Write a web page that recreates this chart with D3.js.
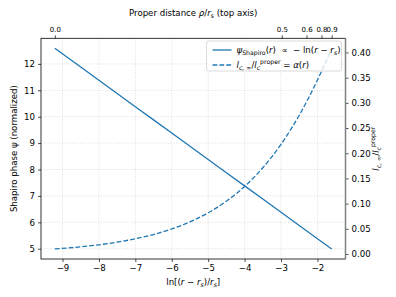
<!DOCTYPE html>
<html>
<head>
<meta charset="utf-8">
<script src="https://cdn.jsdelivr.net/npm/d3@7"></script>
<style>
    body { margin: 0; background: #fff; }
    text { font-family: "DejaVu Sans", sans-serif; font-size: 8.6px; fill: #000; white-space: pre; }
    .top-axis text { font-size: 7px; }
</style>
</head>
<body>
<div id="chart"></div>
<script>

// sample points along ln[(r - rs)/rs]
const lnX = [-9.21, -8.5, -8, -7.5, -7, -6.5, -6, -5.5, -5, -4.5, -4, -3.5, -3, -2.5, -2, -1.61];
// Shapiro phase (normalized), left axis
const psiShapiro = [12.59, 11.88, 11.38, 10.88, 10.38, 9.88, 9.38, 8.88, 8.38, 7.88, 7.38, 6.88, 6.38, 5.88, 5.38, 4.99];
// l_c,inf / l_c^proper, right axis
const alphaRatio = [0.0100, 0.0143, 0.0183, 0.0235, 0.0302, 0.0387, 0.0497, 0.0638, 0.0818, 0.1048, 0.1341, 0.1712, 0.2178, 0.2754, 0.3453, 0.4082];

const bottomTicks = [-9, -8, -7, -6, -5, -4, -3, -2];
const leftTicks = [5, 6, 7, 8, 9, 10, 11, 12];
const rightTicks = [0, 0.05, 0.10, 0.15, 0.20, 0.25, 0.30, 0.35, 0.40];
// top axis: proper distance ticks, placed on the ln axis
const topTickPos = [-9.21, -2.98, -2.3, -1.89, -1.61];
const topTickLabels = ["0.0", "0.5", "0.6", "0.8", "0.9"];

const width = 396, height = 297;
const box = {left: 41, right: 345.5, top: 38.3, bottom: 259};
const blue = "#1f77b4";

const svg = d3.select("#chart").append("svg")
    .attr("width", width)
    .attr("height", height);

// 5% padding like the plotting library default
function padded(vals) {
    let [lo, hi] = d3.extent(vals);
    let m = (hi - lo) * 0.05;
    return [lo - m, hi + m];
}

const x = d3.scaleLinear().domain(padded(lnX)).range([box.left, box.right]);
const yL = d3.scaleLinear().domain(padded(psiShapiro)).range([box.bottom, box.top]);
const yR = d3.scaleLinear().domain(padded(alphaRatio)).range([box.bottom, box.top]);

// writes text with italic / sub / sup pieces
function mathText(sel, parts) {
    let shift = 0;
    parts.forEach(p => {
        let [t, s] = p;
        s = s || "";
        let target = 0;
        if (s.includes("sub")) target = 2.4;
        if (s.includes("sup")) target = -3.6;
        let ts = sel.append("tspan").text(t).attr("dy", target - shift);
        shift = target;
        if (s.includes("i")) ts.attr("font-style", "italic");
        if (s.includes("sub") || s.includes("sup")) ts.style("font-size", "6.2px");
    });
    return sel;
}

// grid
const grid = svg.append("g").attr("stroke", "#d0d0d0").attr("stroke-width", 0.7).attr("stroke-dasharray", "1,1.6");
grid.selectAll(".gx").data(bottomTicks).enter().append("line")
    .attr("x1", d => x(d)).attr("x2", d => x(d))
    .attr("y1", box.top).attr("y2", box.bottom);
grid.selectAll(".gy").data(leftTicks).enter().append("line")
    .attr("x1", box.left).attr("x2", box.right)
    .attr("y1", d => yL(d)).attr("y2", d => yL(d));

// lines
const psiLine = d3.line().x((d, i) => x(lnX[i])).y(d => yL(d));
const alphaLine = d3.line().x((d, i) => x(lnX[i])).y(d => yR(d)).curve(d3.curveMonotoneX);

svg.append("path").datum(psiShapiro)
    .attr("d", psiLine)
    .attr("fill", "none").attr("stroke", blue).attr("stroke-width", 1.3);

svg.append("path").datum(alphaRatio)
    .attr("d", alphaLine)
    .attr("fill", "none").attr("stroke", blue).attr("stroke-width", 1.3)
    .attr("stroke-dasharray", "4.8,2.1");

// axes
function styleAxis(g) {
    g.select(".domain").remove();
    g.selectAll(".tick line").attr("stroke", "#000").attr("stroke-width", 0.7);
}

svg.append("g")
    .attr("transform", `translate(0,${box.bottom})`)
    .call(d3.axisBottom(x).tickValues(bottomTicks).tickFormat(d3.format("d")).tickSize(3).tickPadding(3))
    .call(styleAxis);

svg.append("g")
    .attr("transform", `translate(${box.left},0)`)
    .call(d3.axisLeft(yL).tickValues(leftTicks).tickFormat(d3.format("d")).tickSize(3).tickPadding(3))
    .call(styleAxis);

svg.append("g")
    .attr("transform", `translate(${box.right},0)`)
    .call(d3.axisRight(yR).tickValues(rightTicks).tickFormat(d3.format(".2f")).tickSize(3).tickPadding(3))
    .call(styleAxis);

svg.append("g")
    .attr("class", "top-axis")
    .attr("transform", `translate(0,${box.top})`)
    .call(d3.axisTop(x).tickValues(topTickPos).tickFormat((d, i) => topTickLabels[i]).tickSize(3).tickPadding(3))
    .call(styleAxis);

// frame
svg.append("rect")
    .attr("x", box.left).attr("y", box.top)
    .attr("width", box.right - box.left).attr("height", box.bottom - box.top)
    .attr("fill", "none").attr("stroke", "#000").attr("stroke-width", 0.8);
svg.append("line")
    .attr("x1", box.right).attr("x2", box.right)
    .attr("y1", box.top).attr("y2", box.bottom)
    .attr("stroke", "#808080").attr("stroke-width", 1.5);

// axis labels
const midX = (box.left + box.right) / 2;
const midY = (box.top + box.bottom) / 2;

mathText(svg.append("text").attr("x", midX).attr("y", 285).attr("text-anchor", "middle"),
    [["ln[("], ["r", "i"], [" − "], ["r", "i"], ["s", "subi"], [")/"], ["r", "i"], ["s", "subi"], ["]"]]);

mathText(svg.append("text").attr("x", midX).attr("y", 16).attr("text-anchor", "middle"),
    [["Proper distance "], ["ρ", "i"], ["/"], ["r", "i"], ["s", "sub"], [" (top axis)"]]);

svg.append("text")
    .attr("transform", `translate(17,${midY}) rotate(-90)`)
    .attr("text-anchor", "middle")
    .text("Shapiro phase ψ (normalized)");

mathText(svg.append("text").attr("transform", `translate(379,${midY}) rotate(-90)`).attr("text-anchor", "middle"),
    [["l", "i"], ["c, ∞", "subi"], ["/"], ["l", "i"], ["c", "subi"], ["proper", "sup"]]);

// legend
const leg = svg.append("g").attr("transform", "translate(206.5,41)");
leg.append("rect")
    .attr("width", 135).attr("height", 30).attr("rx", 2)
    .attr("fill", "#fff").attr("fill-opacity", 0.8)
    .attr("stroke", "#cccccc").attr("stroke-width", 0.7);

leg.append("line").attr("x1", 6).attr("x2", 25).attr("y1", 9).attr("y2", 9)
    .attr("stroke", blue).attr("stroke-width", 1.3);
leg.append("line").attr("x1", 6).attr("x2", 25).attr("y1", 24).attr("y2", 24)
    .attr("stroke", blue).attr("stroke-width", 1.3).attr("stroke-dasharray", "4.8,2.1");

mathText(leg.append("text").attr("x", 30).attr("y", 12),
    [["ψ", "i"], ["Shapiro", "sub"], ["("], ["r", "i"], [")"], ["  ∝  "], ["− ln("], ["r", "i"], [" − "], ["r", "i"], ["s", "subi"], [")"]]);

mathText(leg.append("text").attr("x", 30).attr("y", 27),
    [["l", "i"], ["c, ∞", "subi"], ["/"], ["l", "i"], ["c", "subi"], ["proper", "sup"], [" = "], ["α", "i"], ["("], ["r", "i"], [")"]]);

</script>
</body>
</html>
